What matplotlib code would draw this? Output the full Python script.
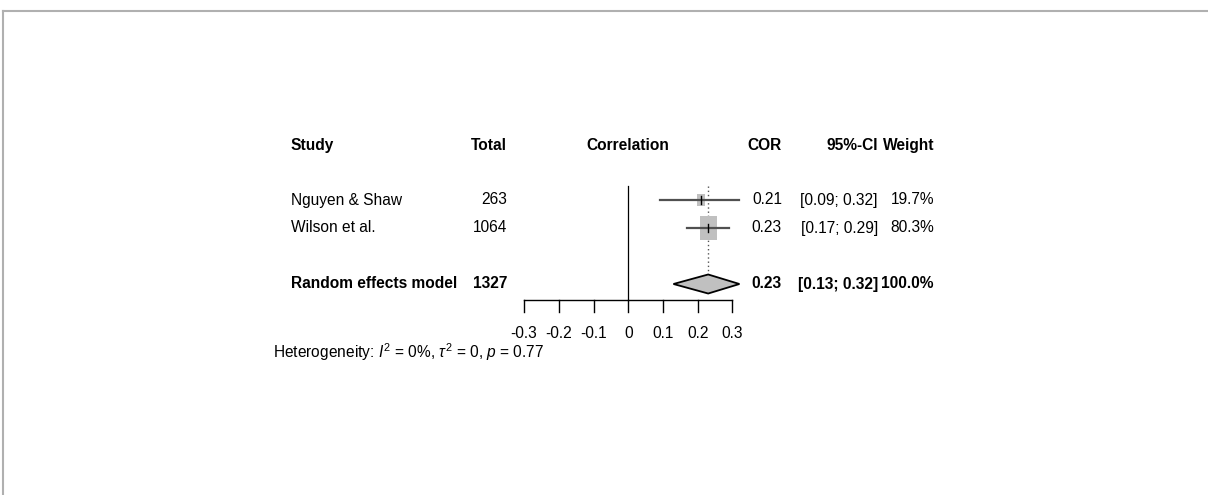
import numpy as np
import matplotlib
matplotlib.use('Agg')
import matplotlib.pyplot as plt
from matplotlib.patches import Rectangle, Polygon
from matplotlib.lines import Line2D
from matplotlib.transforms import blended_transform_factory

# dados da meta-analise
studies = ['Nguyen & Shaw', 'Wilson et al.']
totals = [263, 1064]
cor = [0.21, 0.23]
ci_low = [0.09, 0.17]
ci_high = [0.32, 0.29]
weights = [19.7, 80.3]

pooled_label = 'Random effects model'
pooled_total = 1327
pooled_cor = 0.23
pooled_low = 0.13
pooled_high = 0.32
pooled_weight = 100.0

ticks = [-0.3, -0.2, -0.1, 0, 0.1, 0.2, 0.3]
tick_labels = ['-0.3', '-0.2', '-0.1', '0', '0.1', '0.2', '0.3']
het_text = r'Heterogeneity: $I^2$ = 0%, $\tau^2$ = 0, $p$ = 0.77'

plt.rcParams['font.family'] = ['Liberation Sans', 'DejaVu Sans']
plt.rcParams['mathtext.fontset'] = 'custom'
plt.rcParams['mathtext.rm'] = 'Liberation Sans'
plt.rcParams['mathtext.it'] = 'Liberation Sans:italic'
fs = 11.2

W, H = 1208, 495
fig = plt.figure(figsize=(W / 100, H / 100), dpi=100)
ax = fig.add_axes([0, 0, 1, 1])

# escala: 0 em x=628 px, 347 px por unidade; linhas de 28 px, linha 0 em y=200 px
x0, xs = 628.3, 347.3
y0, ys = 200.0, 28.0
ax.set_xlim(-x0 / xs, (W - x0) / xs)
ax.set_ylim((H - y0) / ys, -y0 / ys)
ax.axis('off')

# moldura cinza
fig.add_artist(Line2D([3 / W, 1], [1 - 11 / H, 1 - 11 / H], transform=fig.transFigure, color='#b0b0b0', lw=1.5))
fig.add_artist(Line2D([3 / W, 3 / W], [0, 1 - 11 / H], transform=fig.transFigure, color='#b0b0b0', lw=1.5))

tr = blended_transform_factory(fig.transFigure, ax.transData)
col_study = 290.7 / W
col_het = 272.7 / W
col_total = 507 / W
col_cor = 782 / W
col_ci = 878 / W
col_w = 934 / W

# cabecalho
hy = -1.93
ax.text(col_study, hy, 'Study', transform=tr, ha='left', va='center', fontsize=fs, fontweight='bold')
ax.text(col_total, hy, 'Total', transform=tr, ha='right', va='center', fontsize=fs, fontweight='bold')
ax.text(0, hy, 'Correlation', ha='center', va='center', fontsize=fs, fontweight='bold')
ax.text(col_cor, hy, 'COR', transform=tr, ha='right', va='center', fontsize=fs, fontweight='bold')
ax.text(col_ci, hy, '95%-CI', transform=tr, ha='right', va='center', fontsize=fs, fontweight='bold')
ax.text(col_w, hy, 'Weight', transform=tr, ha='right', va='center', fontsize=fs, fontweight='bold')

pool_y = len(studies) + 1
axis_y = 3.57

# linha do zero e linha pontilhada do efeito combinado
ax.plot([0, 0], [-0.5, axis_y], color='black', lw=0.9)
ax.plot([pooled_cor, pooled_cor], [-0.5, pool_y - 0.34], color='#555555', lw=1.0, ls=(0, (1, 2)))

for i in range(len(studies)):
    y = i
    ax.text(col_study, y, studies[i], transform=tr, ha='left', va='center', fontsize=fs)
    ax.text(col_total, y, str(totals[i]), transform=tr, ha='right', va='center', fontsize=fs)
    ax.text(col_cor, y, '%.2f' % cor[i], transform=tr, ha='right', va='center', fontsize=fs)
    ax.text(col_ci, y, '[%.2f; %.2f]' % (ci_low[i], ci_high[i]), transform=tr, ha='right', va='center', fontsize=fs)
    ax.text(col_w, y, '%.1f%%' % weights[i], transform=tr, ha='right', va='center', fontsize=fs)
    # quadrado proporcional ao peso
    bw = 0.0054 * np.sqrt(weights[i])
    bh = 0.0957 * np.sqrt(weights[i])
    ax.add_patch(Rectangle((cor[i] - bw / 2, y - bh / 2), bw, bh, facecolor='#c0c0c0', edgecolor='none', zorder=2))
    ax.plot([ci_low[i], ci_high[i]], [y, y], color='#505050', lw=1.6, zorder=3)
    ax.plot([cor[i], cor[i]], [y - 0.15, y + 0.15], color='black', lw=1.0, zorder=4)

# modelo de efeitos aleatorios
ax.text(col_study, pool_y, pooled_label, transform=tr, ha='left', va='center', fontsize=fs, fontweight='bold')
ax.text(col_total, pool_y, str(pooled_total), transform=tr, ha='right', va='center', fontsize=fs, fontweight='bold')
ax.text(col_cor, pool_y, '%.2f' % pooled_cor, transform=tr, ha='right', va='center', fontsize=fs, fontweight='bold')
ax.text(col_ci, pool_y, '[%.2f; %.2f]' % (pooled_low, pooled_high), transform=tr, ha='right', va='center', fontsize=fs, fontweight='bold')
ax.text(col_w, pool_y, '%.1f%%' % pooled_weight, transform=tr, ha='right', va='center', fontsize=fs, fontweight='bold')
dh = 0.34
ax.add_patch(Polygon([(pooled_low, pool_y), (pooled_cor, pool_y - dh), (pooled_high, pool_y), (pooled_cor, pool_y + dh)],
                     closed=True, facecolor='#c0c0c0', edgecolor='black', lw=1.3, zorder=3))

# eixo x
ax.plot([ticks[0], ticks[-1]], [axis_y, axis_y], color='black', lw=1.0)
for t, lab in zip(ticks, tick_labels):
    ax.plot([t, t], [axis_y, 4.0], color='black', lw=1.0)
    ax.text(t, 4.75, lab, ha='center', va='center', fontsize=fs)

ax.text(col_het, 5.42, het_text, transform=tr, ha='left', va='center', fontsize=fs)

plt.savefig('out.png', dpi=100)
